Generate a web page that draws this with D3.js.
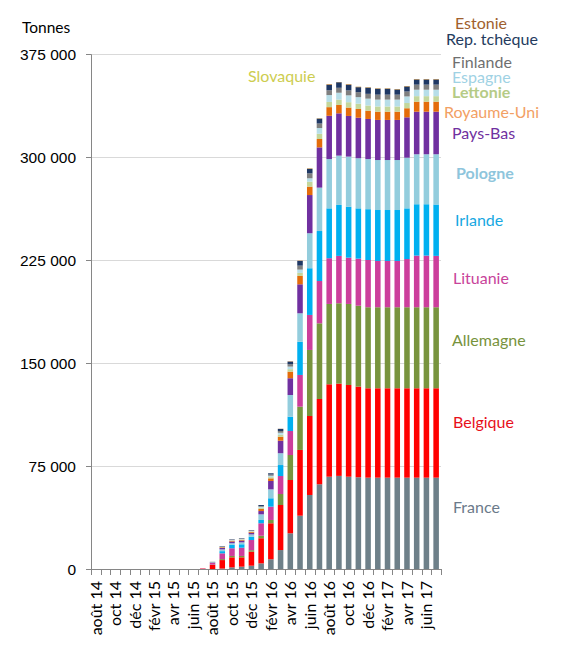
<!DOCTYPE html>
<html>
<head>
<meta charset="utf-8">
<script src="https://cdn.jsdelivr.net/npm/d3@7"></script>
<style>
  html, body { margin: 0; padding: 0; background: #fff; }
  svg { display: block; font-family: Lato, "Open Sans", sans-serif; }
</style>
</head>
<body>
<svg id="chart" width="561" height="660"></svg>
<script>
const months = ["août 14","sept 14","oct 14","nov 14","déc 14","janv 15","févr 15","mars 15","avr 15","mai 15","juin 15","juil 15",
  "août 15","sept 15","oct 15","nov 15","déc 15","janv 16","févr 16","mars 16","avr 16","mai 16","juin 16","juil 16",
  "août 16","sept 16","oct 16","nov 16","déc 16","janv 17","févr 17","mars 17","avr 17","mai 17","juin 17","juil 17"];

const countries = ["France","Belgique","Allemagne","Lituanie","Irlande","Pologne","Pays-Bas","Royaume-Uni","Lettonie","Espagne","Finlande","Rep. tchèque","Estonie","Slovaquie"];

const z11 = [0,0,0,0,0,0,0,0,0,0,0];
const France      = z11.concat([0, 0, 300, 1200, 1700, 2400, 4100, 7100, 13800, 26000, 38800, 53900, 61700, 67200, 67800, 67200, 66800, 66500, 66500, 66500, 66500, 66500, 66500, 66500, 66500]);
const Belgique    = z11.concat([300, 3000, 6200, 7300, 6800, 10200, 18300, 26200, 32800, 38800, 47900, 57500, 62100, 67300, 67200, 66800, 66000, 65100, 65100, 65100, 65100, 65100, 65100, 65100, 65100]);
const Allemagne   = z11.concat([0, 200, 700, 1000, 1000, 1100, 1800, 2400, 8000, 18200, 31500, 48100, 55100, 58500, 58500, 59000, 58900, 59000, 59000, 59000, 59000, 59000, 59000, 59000, 59000]);
const Lituanie    = z11.concat([200, 1300, 4200, 5600, 6000, 7400, 9100, 9700, 13100, 17500, 23100, 25500, 30800, 33300, 34500, 33700, 34300, 34400, 33700, 33700, 33700, 35100, 37600, 37600, 37400]);
const Irlande     = z11.concat([0, 200, 1600, 2500, 2500, 2400, 2400, 6100, 8000, 10400, 24200, 34000, 36400, 36300, 37100, 37100, 36600, 37000, 37100, 37100, 37100, 36900, 37400, 37400, 37400]);
const Pologne     = z11.concat([0, 200, 1300, 1200, 1400, 1700, 4100, 6500, 8600, 15800, 20700, 25500, 31600, 35900, 35900, 36500, 36500, 36500, 36400, 36400, 36400, 36900, 36400, 36400, 36600]);
const PaysBas     = z11.concat([0, 100, 1000, 1200, 1300, 1200, 2400, 6100, 9100, 12200, 21100, 27800, 29300, 31500, 30800, 29600, 29500, 29200, 29200, 29200, 29200, 29400, 31000, 31000, 31000]);
const RoyaumeUni  = z11.concat([0, 100, 500, 600, 600, 700, 1600, 1900, 2900, 4800, 6100, 6100, 6100, 6300, 6100, 6100, 6400, 6000, 6000, 6000, 6000, 6600, 7300, 7300, 7300]);
const Lettonie    = z11.concat([0, 50, 200, 200, 250, 300, 700, 900, 1400, 1800, 2200, 3600, 3800, 3800, 3900, 3900, 3800, 3800, 3800, 3800, 3800, 3800, 4000, 4000, 4000]);
const Espagne     = z11.concat([0, 50, 200, 300, 300, 400, 800, 1000, 1500, 1900, 2400, 2500, 4200, 5000, 5000, 5000, 4800, 5000, 5000, 5000, 5000, 4800, 4700, 4700, 4700]);
const Finlande    = z11.concat([0, 50, 200, 200, 250, 300, 600, 900, 1300, 1700, 2900, 3600, 3300, 3500, 3600, 3600, 3600, 3500, 3600, 3600, 3600, 3600, 3700, 3700, 3700]);
const RepTcheque  = z11.concat([0, 50, 300, 300, 300, 300, 700, 900, 1500, 1900, 3400, 3200, 3500, 3900, 4000, 4000, 3600, 4400, 4200, 4200, 3700, 3600, 3700, 3700, 3700]);
const Estonie     = z11.concat([0, 0, 0, 0, 0, 0, 0, 0, 100, 200, 200, 300, 200, 400, 150, 400, 300, 300, 300, 300, 300, 300, 300, 300, 300]);
const Slovaquie   = z11.concat([0, 0, 0, 0, 0, 0, 0, 0, 0, 0, 0, 100, 100, 100, 50, 100, 100, 100, 100, 100, 100, 100, 100, 100, 100]);

const yTicks = [0, 75000, 150000, 225000, 300000, 375000];
const yTickLabels = ["0", "75 000", "150 000", "225 000", "300 000", "375 000"];

const seriesValues = [France, Belgique, Allemagne, Lituanie, Irlande, Pologne, PaysBas, RoyaumeUni, Lettonie, Espagne, Finlande, RepTcheque, Estonie, Slovaquie];

const barColors = {
  "France": "#6E8089", "Belgique": "#FF0000", "Allemagne": "#78943E", "Lituanie": "#CC3E9C",
  "Irlande": "#00B0F0", "Pologne": "#93CDDD", "Pays-Bas": "#7030A0", "Royaume-Uni": "#E46C0A",
  "Lettonie": "#C3D69B", "Espagne": "#B7DEE8", "Finlande": "#7F7F7F", "Rep. tchèque": "#1F3864",
  "Estonie": "#984807", "Slovaquie": "#D4D45A"
};
const labelStyle = {
  "Estonie":      {x: 455, y: 29,  c: "#A0602E", b: false},
  "Rep. tchèque": {x: 446, y: 45,  c: "#243B5E", b: false},
  "Finlande":     {x: 452, y: 67.5,c: "#6F6F6F", b: false},
  "Espagne":      {x: 452, y: 83,  c: "#9FD2E4", b: false},
  "Lettonie":     {x: 452, y: 98,  c: "#B5CB86", b: true},
  "Royaume-Uni":  {x: 444, y: 118, c: "#F2A064", b: false},
  "Pays-Bas":     {x: 452, y: 139, c: "#7030A0", b: false},
  "Pologne":      {x: 456, y: 179, c: "#8EC5DC", b: true},
  "Irlande":      {x: 455, y: 226, c: "#17A8E2", b: false},
  "Lituanie":     {x: 453, y: 284, c: "#C8439A", b: false},
  "Allemagne":    {x: 452, y: 346, c: "#77933C", b: false},
  "Belgique":     {x: 453, y: 428, c: "#E8101A", b: false},
  "France":       {x: 453, y: 512.5, c: "#6B7A8A", b: false},
  "Slovaquie":    {x: 248, y: 81.5, c: "#CDCD50", b: false}
};

const rows = months.map((m, i) => {
  const r = {month: m};
  countries.forEach((c, k) => r[c] = seriesValues[k][i]);
  return r;
});

const svg = d3.select("#chart");
const mLeft = 91, mRight = 441, mTop = 54, mBottom = 569;

const x = d3.scaleBand().domain(months).range([mLeft, mRight]).paddingInner(0.43).paddingOuter(0.215);
const y = d3.scaleLinear().domain([0, 375000]).range([mBottom, mTop]);

// gridlines
svg.append("g").selectAll("line").data(yTicks.filter(d => d > 0)).join("line")
  .attr("x1", mLeft).attr("x2", mRight)
  .attr("y1", d => Math.round(y(d)) + 0.5).attr("y2", d => Math.round(y(d)) + 0.5)
  .attr("stroke", "#D9D9D9").attr("stroke-width", 1);

// bars
const stack = d3.stack().keys(countries)(rows);
svg.append("g").selectAll("g").data(stack).join("g")
  .attr("fill", d => barColors[d.key])
  .selectAll("rect").data(d => d).join("rect")
  .attr("x", d => x(d.data.month))
  .attr("width", x.bandwidth())
  .attr("y", d => y(d[1]))
  .attr("height", d => Math.max(0, y(d[0]) - y(d[1])));

// y axis
const yAxis = d3.axisLeft(y).tickValues(yTicks).tickSize(5).tickPadding(10)
  .tickFormat((d, i) => yTickLabels[i]);
const gy = svg.append("g").attr("transform", `translate(${mLeft},0)`).call(yAxis);
gy.select(".domain").attr("stroke", "#868686");
gy.selectAll(".tick line").attr("stroke", "#868686");
gy.selectAll(".tick text").attr("font-size", 15.5).attr("fill", "#000").attr("dy", "0.36em");

// x axis: tick marks at category boundaries
const step = x.step();
const x0 = x(months[0]) - x.paddingOuter() * step;
const boundaries = d3.range(months.length + 1).map(i => x0 + i * step);
svg.append("line").attr("x1", mLeft).attr("x2", mRight).attr("y1", mBottom + 0.5).attr("y2", mBottom + 0.5)
  .attr("stroke", "#868686");
svg.append("g").selectAll("line").data(boundaries).join("line")
  .attr("x1", d => Math.round(d) + 0.5).attr("x2", d => Math.round(d) + 0.5)
  .attr("y1", mBottom).attr("y2", mBottom + 6)
  .attr("stroke", "#868686");

// x labels every other month
svg.append("g").selectAll("text").data(months.filter((m, i) => i % 2 === 0)).join("text")
  .attr("transform", d => `translate(${x(d) + x.bandwidth() / 2},${mBottom + 12}) rotate(-90)`)
  .attr("text-anchor", "end").attr("dy", "0.36em")
  .attr("font-size", 16).attr("fill", "#000")
  .text(d => d);

// unit label
svg.append("text").attr("x", 22).attr("y", 32.5).attr("font-size", 15.5).attr("fill", "#000").text("Tonnes");

// series labels
svg.append("g").selectAll("text").data(countries).join("text")
  .attr("x", d => labelStyle[d].x).attr("y", d => labelStyle[d].y)
  .attr("fill", d => labelStyle[d].c)
  .attr("font-weight", d => labelStyle[d].b ? "bold" : "normal")
  .attr("font-size", 16)
  .text(d => d);
</script>
</body>
</html>
